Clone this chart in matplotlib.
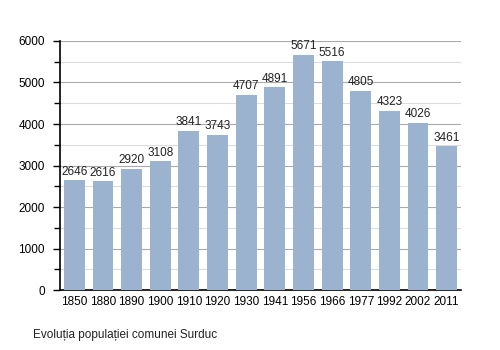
import numpy as np
import matplotlib.pyplot as plt
from matplotlib.ticker import MultipleLocator

plt.rcParams['font.family'] = ['Liberation Sans', 'DejaVu Sans']

# population by census year
years = ['1850', '1880', '1890', '1900', '1910', '1920', '1930', '1941',
         '1956', '1966', '1977', '1992', '2002', '2011']
population = [2646, 2616, 2920, 3108, 3841, 3743, 4707, 4891,
              5671, 5516, 4805, 4323, 4026, 3461]

fig = plt.figure(figsize=(5, 3.5), dpi=100)
ax = fig.add_axes([0.12, 0.171, 0.802, 0.712])

x = np.arange(len(years))
ax.bar(x, population, width=0.73, color='#9bb3cf', zorder=3)

for xi, v in zip(x, population):
    ax.text(xi, v + 60, str(v), ha='center', va='bottom', fontsize=8.5, color='#222222')

ax.set_xlim(-0.5, len(years) - 0.5)
ax.set_ylim(0, 6000)
ax.set_xticks(x)
ax.set_xticklabels(years, fontsize=8.5)
ax.yaxis.set_major_locator(MultipleLocator(1000))
ax.yaxis.set_minor_locator(MultipleLocator(500))
ax.tick_params(axis='y', labelsize=8.5, length=5, width=1, pad=6)
ax.tick_params(axis='y', which='minor', length=4, width=1)
ax.tick_params(axis='x', length=0, pad=4)

ax.grid(axis='y', which='major', color='#aaaaaa', linewidth=0.8, zorder=0)
ax.grid(axis='y', which='minor', color='#dddddd', linewidth=0.8, zorder=0)

for s in ['top', 'right']:
    ax.spines[s].set_visible(False)
ax.spines['left'].set_linewidth(1.2)
ax.spines['bottom'].set_linewidth(1.2)

fig.text(0.066, 0.034, 'Evoluția populației comunei Surduc', fontsize=8.5, color='#222222')

fig.savefig('out.png', dpi=100)
